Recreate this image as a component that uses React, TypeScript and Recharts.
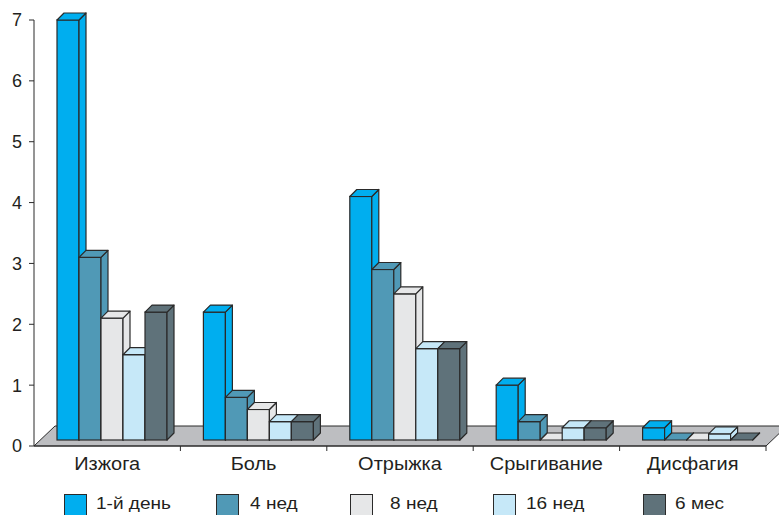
import React from 'react';
import { BarChart, Bar, XAxis, YAxis, ReferenceArea } from 'recharts';

// Symptom categories and the score at each follow-up point
const categories = ['Изжога', 'Боль', 'Отрыжка', 'Срыгивание', 'Дисфагия'];
const day1 = [7, 2.2, 4.1, 1.0, 0.3];
const week4 = [3.1, 0.8, 2.9, 0.4, 0];
const week8 = [2.1, 0.6, 2.5, 0, 0];
const week16 = [1.5, 0.4, 1.6, 0.3, 0.2];
const month6 = [2.2, 0.4, 1.6, 0.3, 0];
const seriesNames = ['1-й день', '4 нед', '8 нед', '16 нед', '6 мес'];
const yTicks = [0, 1, 2, 3, 4, 5, 6, 7];

const seriesValues = [day1, week4, week8, week16, month6];
const seriesKeys = ['s0', 's1', 's2', 's3', 's4'];
const seriesColors = ['#00AEEF', '#5099B6', '#E6E7E8', '#C6E8F8', '#5F727A'];

const data = categories.map((name, i) => {
  const row: Record<string, string | number> = { name };
  seriesKeys.forEach((k, s) => {
    row[k] = seriesValues[s][i];
  });
  return row;
});

const INK = '#2A2A2A';
const TEXT = '#231F20';
const FONT = '"Liberation Sans", Arial, Helvetica, sans-serif';

// 3D geometry
const BAR_DX = 7;
const BAR_DY = 7;
const BAR_LIFT = 6; // bars stand on the floor, slightly behind the front edge
const BAR_SHIFT = 6;
const FLOOR_DX = 21;
const FLOOR_DY = 20;

const TICK_SIZE = 5;
const X_TICK_MARGIN = 6;

// legend slot widths and gaps between swatch and caption
const LEGEND_SLOTS = [152, 134, 143, 150, 120];
const LEGEND_GAPS = [9, 11, 17, 10, 9];

function Bar3D(props: any) {
  const { x, y, width, height, fill } = props;
  if (x == null || y == null || width == null) return null;
  const bx = x + BAR_SHIFT;
  const bottom = y + (height || 0) - BAR_LIFT;
  const top = Math.min(y, bottom);
  const w = width;
  const topFace = `${bx},${top} ${bx + BAR_DX},${top - BAR_DY} ${bx + w + BAR_DX},${top - BAR_DY} ${bx + w},${top}`;
  const sideFace = `${bx + w},${top} ${bx + w + BAR_DX},${top - BAR_DY} ${bx + w + BAR_DX},${bottom - BAR_DY} ${bx + w},${bottom}`;
  return (
    <g>
      {bottom > top && (
        <rect x={bx} y={top} width={w} height={bottom - top} fill={fill} stroke={INK} strokeWidth={1.2} />
      )}
      <polygon points={sideFace} fill={fill} stroke={INK} strokeWidth={1.2} strokeLinejoin="round" />
      <polygon points={topFace} fill={fill} stroke={INK} strokeWidth={1.2} strokeLinejoin="round" />
    </g>
  );
}

function Floor(props: any) {
  const { x, y, width, height } = props;
  if (x == null) return null;
  const b = y + height;
  const pts = `${x},${b} ${x + FLOOR_DX},${b - FLOOR_DY} ${x + width + FLOOR_DX},${b - FLOOR_DY} ${x + width},${b}`;
  return <polygon points={pts} fill="#BDBEC1" stroke={INK} strokeWidth={1} />;
}

function CategoryTick(props: any) {
  const { x, y, payload } = props;
  const axisY = y - TICK_SIZE - X_TICK_MARGIN;
  const edge = x + (payload?.offset || 0);
  return (
    <g>
      <line x1={edge} y1={axisY} x2={edge} y2={axisY + TICK_SIZE} stroke={INK} strokeWidth={1} />
      <text
        transform={`translate(${x},${y}) scale(1.08,1)`}
        x={0}
        y={0}
        dy="0.71em"
        textAnchor="middle"
        fontSize={18.5}
        fill={TEXT}
        fontFamily={FONT}
      >
        {payload.value}
      </text>
    </g>
  );
}

function LegendRow() {
  return (
    <div
      style={{
        position: 'absolute',
        left: 64,
        top: 494,
        display: 'flex',
        fontFamily: FONT,
        fontSize: 17,
        color: TEXT,
      }}
    >
      {seriesNames.map((name, i) => (
        <div key={name} style={{ width: LEGEND_SLOTS[i], display: 'flex', alignItems: 'flex-start', flex: '0 0 auto' }}>
          <div
            style={{
              width: 21,
              height: 24,
              background: seriesColors[i],
              border: `1px solid ${INK}`,
              flex: '0 0 auto',
            }}
          />
          <span
            style={{
              marginLeft: LEGEND_GAPS[i],
              lineHeight: '20px',
              marginTop: 0,
              display: 'inline-block',
              transform: 'scaleX(1.12)',
              transformOrigin: 'left center',
              whiteSpace: 'nowrap',
            }}
          >
            {name}
          </span>
        </div>
      ))}
    </div>
  );
}

export default function App() {
  return (
    <div style={{ position: 'absolute', left: 0, top: 0, width: 779, height: 515, overflow: 'hidden', background: '#fff' }}>
      <BarChart
        width={779}
        height={515}
        data={data}
        margin={{ top: 20, right: 13, left: 0, bottom: 39 }}
        barCategoryGap={17}
        barGap={0}
      >
        <ReferenceArea y1={0} y2={7} shape={<Floor />} ifOverflow="visible" />
        <XAxis
          dataKey="name"
          height={30}
          tickLine={false}
          tickSize={TICK_SIZE}
          tickMargin={X_TICK_MARGIN}
          axisLine={{ stroke: INK, strokeWidth: 1 }}
          tick={<CategoryTick />}
          interval={0}
        />
        <YAxis
          width={34}
          domain={[0, 7]}
          ticks={yTicks}
          tickSize={TICK_SIZE}
          tickMargin={7}
          axisLine={{ stroke: INK, strokeWidth: 1 }}
          tickLine={{ stroke: INK, strokeWidth: 1 }}
          tick={{ fontSize: 18, fill: TEXT, fontFamily: FONT }}
          interval={0}
        />
        {seriesKeys.map((k, i) => (
          <Bar
            key={k}
            dataKey={k}
            name={seriesNames[i]}
            fill={seriesColors[i]}
            shape={(p: any) => <Bar3D {...p} />}
            isAnimationActive={false}
          />
        ))}
      </BarChart>
      <LegendRow />
    </div>
  );
}
